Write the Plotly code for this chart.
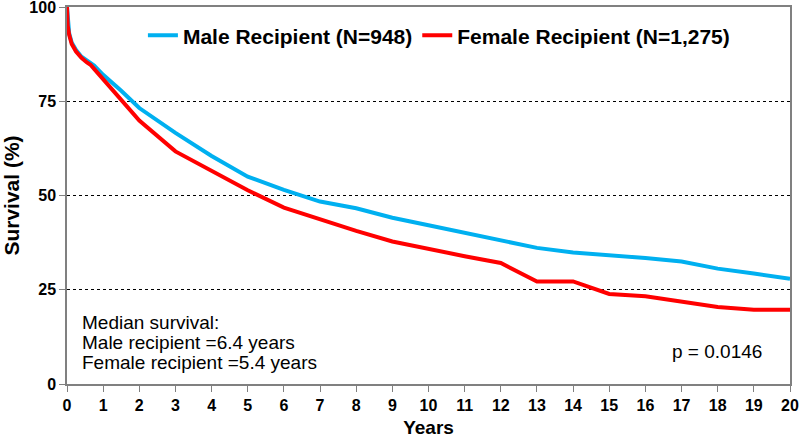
import plotly.graph_objects as go

# Kaplan-Meier survival estimates
male_years = [0, 0.02, 0.06, 0.13, 0.25, 0.4, 0.55, 0.65, 0.75, 1.0, 1.5, 2, 3, 4, 5, 6, 7,
              8, 9, 10, 11, 12, 13, 14, 15, 16, 17, 18, 19, 20]
male_surv = [100, 96, 93, 90.6, 88.6, 86.8, 85.8, 85.4, 84.5, 82.0, 77.8, 73.2, 66.6, 60.5,
             55.0, 51.5, 48.4, 46.6, 44.1, 42.1, 40.1, 38.1, 36.1, 34.9, 34.2, 33.4, 32.5,
             30.6, 29.3, 27.9]

female_years = [0, 0.02, 0.06, 0.13, 0.25, 0.4, 0.55, 0.65, 0.75, 1.0, 1.5, 2, 3, 4, 5, 6, 7,
                8, 9, 10, 11, 12, 13, 14, 15, 16, 17, 18, 19, 20]
female_surv = [100, 95, 92.6, 90.2, 88.2, 86.5, 85.3, 84.7, 83.6, 80.8, 75.6, 69.9, 61.7, 56.4,
               51.4, 46.8, 43.6, 40.6, 37.8, 35.8, 33.9, 32.1, 27.2, 27.2, 23.9, 23.3, 21.9,
               20.4, 19.7, 19.7]

x_ticks = list(range(0, 21))
y_ticks = [0, 25, 50, 75, 100]

median_lines = ["Median survival:", "Male recipient =6.4 years", "Female recipient =5.4 years"]
p_text = "p = 0.0146"

FONT = "Arial, Liberation Sans, sans-serif"

fig = go.Figure()
fig.add_trace(go.Scatter(x=male_years, y=male_surv, mode="lines",
                         name="Male Recipient (N=948)",
                         line=dict(color="#00B0F0", width=4)))
fig.add_trace(go.Scatter(x=female_years, y=female_surv, mode="lines",
                         name="Female Recipient (N=1,275)",
                         line=dict(color="#FF0000", width=4)))

# median survival text block
for txt, yv in zip(median_lines, [16.4, 11.1, 5.8]):
    fig.add_annotation(x=0.36, y=yv, xref="x", yref="y", text=txt, showarrow=False,
                       xanchor="left", yanchor="middle",
                       font=dict(family=FONT, size=19, color="black"))
fig.add_annotation(x=17.98, y=8.5, xref="x", yref="y", text=p_text, showarrow=False,
                   xanchor="center", yanchor="middle",
                   font=dict(family=FONT, size=19, color="black"))

fig.update_layout(
    width=800, height=438,
    margin=dict(l=67, r=10, t=7, b=54, autoexpand=False),
    paper_bgcolor="white", plot_bgcolor="white",
    font=dict(family=FONT, color="black"),
    showlegend=True,
    legend=dict(orientation="h", x=0.105, xanchor="left", y=0.924, yanchor="middle",
                bgcolor="rgba(0,0,0,0)", font=dict(family=FONT, size=21, weight=700, color="black"),
                itemwidth=30, tracegroupgap=0),
    xaxis=dict(range=[0, 20], tickvals=x_ticks, ticks="outside", ticklen=6, tickcolor="#808080",
               showline=True, linecolor="#808080", linewidth=1.5, mirror=True,
               showgrid=False, zeroline=False, automargin=False, ticklabeloverflow="allow",
               tickfont=dict(family=FONT, size=16, weight=700, color="black"),
               title=dict(text="Years", standoff=12,
                          font=dict(family=FONT, size=19, weight=700, color="black"))),
    yaxis=dict(range=[0, 100], tickvals=y_ticks, ticks="outside", ticklen=6, tickcolor="#808080",
               showline=True, linecolor="#808080", linewidth=1.5, mirror=True,
               showgrid=True, gridcolor="black", gridwidth=1, griddash="dot",
               zeroline=False, automargin=False, ticklabeloverflow="allow",
               tickfont=dict(family=FONT, size=16, weight=700, color="black"),
               title=dict(text="Survival (%)", standoff=12,
                          font=dict(family=FONT, size=21, weight=700, color="black"))),
)

fig.write_html("out.html", config={"displayModeBar": False},
               post_script="document.body.style.margin='0';")
